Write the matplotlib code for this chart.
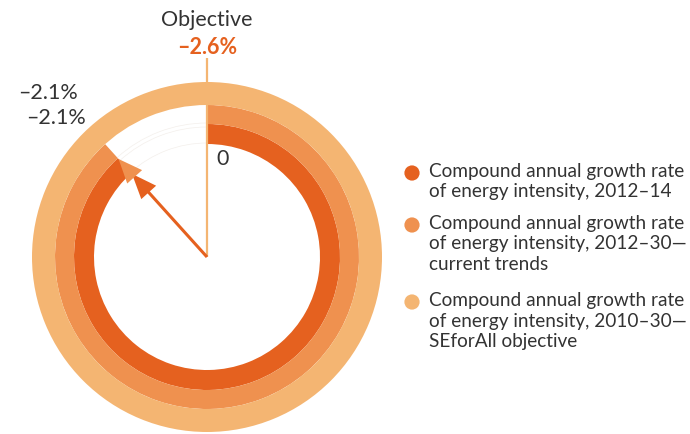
import numpy as np
import matplotlib
matplotlib.use("Agg")
import matplotlib.pyplot as plt
from matplotlib.patches import Wedge, Arc, Polygon

# Series (compound annual growth rate of energy intensity, %)
series_labels = [
    "Compound annual growth rate\nof energy intensity, 2012\u201314",
    "Compound annual growth rate\nof energy intensity, 2012\u201330\u2014\ncurrent trends",
    "Compound annual growth rate\nof energy intensity, 2010\u201330\u2014\nSEforAll objective",
]
series_values = [-2.1, -2.1, -2.6]
series_colors = ["#E5611F", "#EF914F", "#F4B572"]
value_labels = ["\u20132.1%", "\u20132.1%"]
objective_label = "Objective"
objective_value_label = "\u20132.6%"
zero_label = "0"

FONT = ["Lato", "DejaVu Sans"]
TEXT = "#333333"

W, H = 690, 434
fig = plt.figure(figsize=(W / 100, H / 100), dpi=100)
ax = fig.add_axes([0, 0, 1, 1])
ax.set_xlim(0, W)
ax.set_ylim(0, H)
ax.set_aspect("equal")
ax.axis("off")

cx, cy = 207, 177
# ring radii (inner, outer): innermost ring first
rings = [(113, 133), (133, 152), (152, 175)]
deg_per_point = 151.4  # sweep in degrees per percentage point


def sweep(v):
    return min(360.0, abs(v) * deg_per_point)


for (r0, r1), v, c in zip(rings, series_values, series_colors):
    s = sweep(v)
    ax.add_patch(Wedge((cx, cy), r1, 90 - s, 90, width=r1 - r0,
                       facecolor=c, edgecolor="none", zorder=2))

# faint guide arcs in the gap
end_ang = 90 - sweep(series_values[0])
for r in (134, 130, 114):
    ax.add_patch(Arc((cx, cy), 2 * r, 2 * r, theta1=90, theta2=360 + end_ang,
                     color="#F3EFEB", lw=0.5, zorder=1))

# objective marker line
ax.plot([cx, cx], [cy, H - 58], color=series_colors[2], lw=1.6,
        solid_capstyle="butt", zorder=3)

# arrow pointing at the end of the current-trend rings
a = np.deg2rad(360 + end_ang)
u = np.array([np.cos(a), np.sin(a)])
p = np.array([-u[1], u[0]])
c0 = np.array([cx, cy])
ax.plot([cx, cx + 95 * u[0]], [cy, cy + 95 * u[1]], color=series_colors[0],
        lw=2.2, solid_capstyle="butt", zorder=4)


def head(tip_r, base_r, hw, color):
    tip = c0 + tip_r * u
    base = c0 + base_r * u
    ax.add_patch(Polygon([tip, base + hw * p, base - hw * p], closed=True,
                         facecolor=color, edgecolor="none", zorder=5))


head(112, 87, 10, series_colors[0])
head(132, 108, 10, series_colors[1])

# labels
ax.text(cx, H - 20, objective_label, ha="center", va="center",
        fontsize=15.5, color=TEXT, family=FONT)
ax.text(cx, H - 47, objective_value_label, ha="center", va="center",
        fontsize=15.5, color=series_colors[0], family=FONT, fontweight="bold")
ax.text(48, H - 93, value_labels[0], ha="center", va="center",
        fontsize=15.5, color=TEXT, family=FONT)
ax.text(56, H - 118, value_labels[1], ha="center", va="center",
        fontsize=15.5, color=TEXT, family=FONT)
ax.text(216, H - 159, zero_label, ha="left", va="center",
        fontsize=15.5, color=TEXT, family=FONT)

# legend: size the text so the longest line spans about 256 px
renderer = fig.canvas.get_renderer()
probe = ax.text(0, 0, series_labels[0].split("\n")[0], fontsize=10, family=FONT)
w10 = probe.get_window_extent(renderer).width
probe.remove()
leg_fs = 10 * 256 / w10

leg_y = [173, 225, 302]
for y, lab, c in zip(leg_y, series_labels, series_colors):
    ax.scatter([412], [H - y], s=120, color=c, edgecolors="none", zorder=3)
    ax.text(429, H - y + 10, lab, ha="left", va="top", fontsize=leg_fs,
            color=TEXT, family=FONT, linespacing=1.25)

fig.savefig("out.png", dpi=100, facecolor="white")
